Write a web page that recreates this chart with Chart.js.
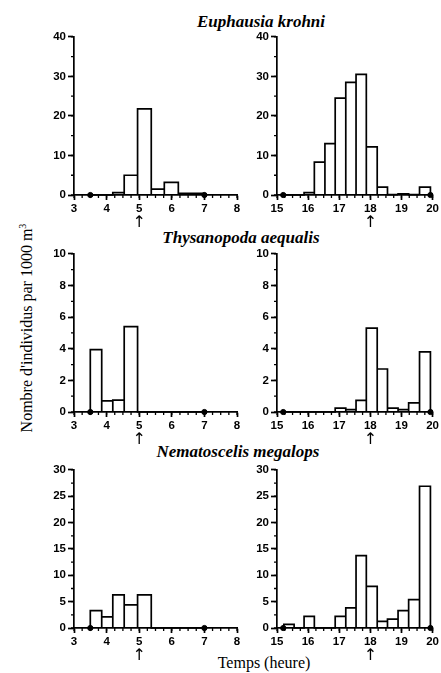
<!DOCTYPE html>
<html><head><meta charset="utf-8">
<script src="https://cdn.jsdelivr.net/npm/chart.js@4.4.0/dist/chart.umd.min.js"></script>
<style>
html,body{margin:0;padding:0;background:#fff;}
body{width:441px;height:673px;overflow:hidden;position:relative;}
.panel{position:absolute;}
.t{position:absolute;transform:translate(-50%,-50%);white-space:nowrap;font-family:'Liberation Serif','Times New Roman',serif;color:#000;line-height:1;}
.sp{font-style:italic;font-weight:bold;font-size:17px;}
.ax{font-size:16px;}
.ax sup{font-size:10px;vertical-align:6px;}
</style></head><body>
<div class="t sp" style="left:261px;top:21px;">Euphausia krohni</div>
<div class="t sp" style="left:241px;top:237px;">Thysanopoda aequalis</div>
<div class="t sp" style="left:238px;top:451px;">Nematoscelis megalops</div>
<div class="t ax" style="left:26px;top:328px;transform:translate(-50%,-50%) rotate(-90deg);">Nombre d'individus par 1000 m<sup>3</sup></div>
<div class="t ax" style="left:264px;top:663px;">Temps (heure)</div>

<div class="panel" style="left:40px;top:28px;width:205px;height:205px;"><canvas id="c1"></canvas></div>
<div class="panel" style="left:243px;top:28px;width:198px;height:205px;"><canvas id="c2"></canvas></div>
<div class="panel" style="left:40px;top:245px;width:205px;height:205px;"><canvas id="c3"></canvas></div>
<div class="panel" style="left:243px;top:245px;width:198px;height:205px;"><canvas id="c4"></canvas></div>
<div class="panel" style="left:40px;top:461px;width:205px;height:205px;"><canvas id="c5"></canvas></div>
<div class="panel" style="left:243px;top:461px;width:198px;height:205px;"><canvas id="c6"></canvas></div>

<script>
// ---- data (hours; individuals per 1000 m3) ----
const morningEdges = [3.5, 3.85, 4.19, 4.54, 4.95, 5.37, 5.77, 6.2, 6.6, 7.0];
const eveningEdges = [15.22, 15.55, 15.87, 16.2, 16.54, 16.87, 17.21, 17.54, 17.87, 18.22, 18.55, 18.89, 19.23, 19.58, 19.93];

const krohniMorning    = [0, 0, 0.6, 5, 21.8, 1.5, 3.2, 0.4, 0.4];
const krohniEvening    = [0, 0, 0.6, 8.3, 13, 24.5, 28.5, 30.5, 12.2, 2, 0.1, 0.3, 0.1, 2];
const aequalisMorning  = [3.95, 0.7, 0.75, 5.4, 0, 0, 0, 0, 0];
const aequalisEvening  = [0, 0, 0, 0, 0, 0.25, 0.15, 0.73, 5.3, 2.72, 0.25, 0.15, 0.58, 3.8];
const megalopsMorning  = [3.3, 2.1, 6.3, 4.4, 6.3, 0, 0, 0, 0];
const megalopsEvening  = [0.7, 0, 2.2, 0, 0, 2.2, 3.8, 13.75, 7.9, 1.25, 1.7, 3.3, 5.4, 26.9];

const morningSampleMarks = [3.5, 7.0];
const eveningSampleMarks = [15.2, 19.93];

const morningTicks = [3, 4, 5, 6, 7, 8];
const eveningTicks = [15, 16, 17, 18, 19, 20];
const morningArrow = 5;
const eveningArrow = 18;

const yMaxes  = [40, 10, 30];
const ySteps  = [10, 2, 5];
const yMinors = [5, 1, 2.5];
const xMinor  = 0.25;

// ---- minor ticks + arrow marker plugin ----
const minorTicks = {
  id: 'minorTicks',
  afterDraw(chart, args, opts) {
    const ctx = chart.ctx;
    const xs = chart.scales.x, ys = chart.scales.y;
    ctx.save();
    ctx.strokeStyle = '#000';
    ctx.lineWidth = 1.3;
    ctx.beginPath();
    for (let v = xs.min; v <= xs.max + 1e-9; v += opts.x) {
      const px = xs.getPixelForValue(v);
      ctx.moveTo(px, xs.top); ctx.lineTo(px, xs.top + 3);
    }
    for (let v = ys.min; v <= ys.max + 1e-9; v += opts.y) {
      const py = ys.getPixelForValue(v);
      ctx.moveTo(ys.right, py); ctx.lineTo(ys.right - 3, py);
    }
    ctx.stroke();
    // sunrise / sunset arrow under the axis
    ctx.fillStyle = '#000';
    ctx.font = "16px 'DejaVu Sans', sans-serif";
    ctx.textAlign = 'center';
    ctx.textBaseline = 'middle';
    ctx.fillText('↑', xs.getPixelForValue(opts.arrow), xs.top + 28);
    ctx.restore();
  }
};

const tickFont = {family: "'Liberation Sans', Arial, 'DejaVu Sans', sans-serif", size: 11.5, weight: 'bold'};

function makePanel(id, edges, values, marks, ticks, arrowAt, row, rightPad) {
  const outline = [];
  for (let i = 0; i < values.length; i++) {
    outline.push({x: edges[i], y: 0}, {x: edges[i], y: values[i]},
                 {x: edges[i + 1], y: values[i]}, {x: edges[i + 1], y: 0});
  }
  new Chart(document.getElementById(id), {
    type: 'line',
    data: {datasets: [
      {data: outline, borderColor: '#000', borderWidth: 1.7, pointRadius: 0, tension: 0, fill: false, clip: false},
      {type: 'scatter', data: marks.map(x => ({x: x, y: 0})), pointRadius: 2.6, pointStyle: 'circle',
       pointBackgroundColor: '#000', pointBorderColor: '#000', showLine: false, clip: false}
    ]},
    options: {
      responsive: true, maintainAspectRatio: false, animation: false, devicePixelRatio: 1,
      layout: {padding: {left: 0, right: rightPad, top: 7, bottom: 0}},
      plugins: {legend: {display: false}, tooltip: {enabled: false},
                minorTicks: {x: xMinor, y: yMinors[row], arrow: arrowAt}},
      scales: {
        x: {
          type: 'linear', min: ticks[0], max: ticks[ticks.length - 1],
          afterFit: s => { s.height = 38; },
          afterBuildTicks: s => { s.ticks = ticks.map(v => ({value: v})); },
          ticks: {autoSkip: false, maxRotation: 0, color: '#000', font: tickFont, padding: 2,
                  callback: v => String(v)},
          grid: {drawOnChartArea: false, tickLength: 5, tickColor: '#000', tickWidth: 1.7},
          border: {color: '#000', width: 1.7}
        },
        y: {
          min: 0, max: yMaxes[row],
          afterFit: s => { s.width = 34; },
          ticks: {stepSize: ySteps[row], autoSkip: false, color: '#000', font: tickFont, padding: 2},
          grid: {drawOnChartArea: false, tickLength: 6, tickColor: '#000', tickWidth: 1.7},
          border: {color: '#000', width: 1.7}
        }
      }
    },
    plugins: [minorTicks]
  });
}

makePanel('c1', morningEdges, krohniMorning,   morningSampleMarks, morningTicks, morningArrow, 0, 8);
makePanel('c2', eveningEdges, krohniEvening,   eveningSampleMarks, eveningTicks, eveningArrow, 0, 7);
makePanel('c3', morningEdges, aequalisMorning, morningSampleMarks, morningTicks, morningArrow, 1, 8);
makePanel('c4', eveningEdges, aequalisEvening, eveningSampleMarks, eveningTicks, eveningArrow, 1, 7);
makePanel('c5', morningEdges, megalopsMorning, morningSampleMarks, morningTicks, morningArrow, 2, 8);
makePanel('c6', eveningEdges, megalopsEvening, eveningSampleMarks, eveningTicks, eveningArrow, 2, 7);
</script>
</body></html>
